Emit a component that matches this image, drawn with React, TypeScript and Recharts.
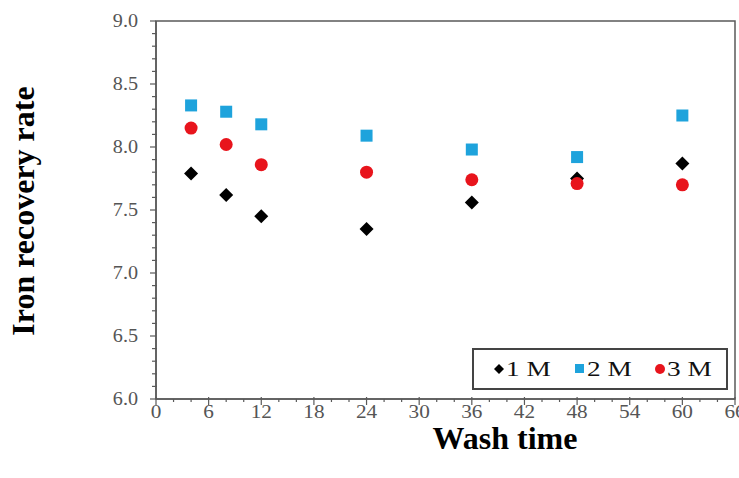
import { ScatterChart, Scatter, XAxis, YAxis, Legend, ReferenceArea, Label } from 'recharts'

// wash time (h)
const washTime = [4, 8, 12, 24, 36, 48, 60]

const oneM = [7.79, 7.62, 7.45, 7.35, 7.56, 7.75, 7.87]
const twoM = [8.33, 8.28, 8.18, 8.09, 7.98, 7.92, 8.25]
const threeM = [8.15, 8.02, 7.86, 7.8, 7.74, 7.71, 7.7]

const xMajorTicks = [0, 6, 12, 18, 24, 30, 36, 42, 48, 54, 60, 66]
const yMajorTicks = [6.0, 6.5, 7.0, 7.5, 8.0, 8.5, 9.0]

const toPoints = (vals: number[]) => washTime.map((t, i) => ({ x: t, y: vals[i] }))

// minor ticks: every 2 h on x, every 0.1 on y
const xTicks: number[] = []
for (let v = 0; v <= 66; v += 2) xTicks.push(v)
const yTicks: number[] = []
for (let i = 0; i <= 30; i++) yTicks.push(Math.round((6 + i * 0.1) * 10) / 10)

const AXIS = '#5a5a5a'
const TICK_TEXT = '#555'
const SERIF = '"Liberation Serif", "Times New Roman", serif'
const BLUE = '#1ea3dc'
const RED = '#e8141c'

const isMajorY = (v: number) => yMajorTicks.some((m) => Math.abs(m - v) < 1e-6)

const XTick = (props: any) => {
  const { x, y, payload } = props
  const axisY = y - 8
  const major = xMajorTicks.includes(payload.value)
  return (
    <g>
      <line x1={x} x2={x} y1={major ? axisY - 2 : axisY} y2={axisY + (major ? 6 : 3)} stroke={AXIS} strokeWidth={1.2} />
      {major && (
        <text
          transform={`translate(${x}, ${axisY + 19}) scale(1.18, 1)`}
          textAnchor="middle"
          fontFamily={SERIF}
          fontSize={18}
          fill={TICK_TEXT}
        >
          {payload.value}
        </text>
      )}
    </g>
  )
}

const YTick = (props: any) => {
  const { x, y, payload } = props
  const axisX = x + 8
  const major = isMajorY(payload.value)
  return (
    <g>
      <line x1={axisX - (major ? 6 : 4)} x2={axisX + (major ? 0 : 1)} y1={y} y2={y} stroke={AXIS} strokeWidth={1.2} />
      {major && (
        <text
          transform={`translate(${axisX - 18}, ${y + 6}) scale(1.12, 1)`}
          textAnchor="end"
          fontFamily={SERIF}
          fontSize={18}
          fill={TICK_TEXT}
        >
          {payload.value.toFixed(1)}
        </text>
      )}
    </g>
  )
}

const Diamond = ({ cx, cy }: any) => (
  <polygon points={`${cx},${cy - 7} ${cx + 7},${cy} ${cx},${cy + 7} ${cx - 7},${cy}`} fill="#000" />
)
const Square = ({ cx, cy }: any) => <rect x={cx - 6} y={cy - 6} width={12} height={12} fill={BLUE} />
const Dot = ({ cx, cy }: any) => <circle cx={cx} cy={cy} r={6.5} fill={RED} />

const legendText = (left: number, label: string) => (
  <span
    style={{
      position: 'absolute',
      left,
      top: 7,
      fontFamily: SERIF,
      fontSize: 21,
      lineHeight: '24px',
      color: '#111',
      transform: 'scaleX(1.3)',
      transformOrigin: 'left center',
      whiteSpace: 'nowrap',
    }}
  >
    {label}
  </span>
)

const renderLegend = () => (
  <div
    style={{
      position: 'relative',
      boxSizing: 'border-box',
      width: 256,
      height: 42,
      border: '2px solid #444',
      background: '#fff',
    }}
  >
    <svg width={256} height={42} style={{ position: 'absolute', left: -2, top: -2 }}>
      <polygon points="27,16 32,21 27,26 22,21" fill="#000" />
      <rect x={103} y={16} width={9} height={9} fill={BLUE} />
      <circle cx={188} cy={21} r={5} fill={RED} />
    </svg>
    {legendText(32, '1 M')}
    {legendText(113, '2 M')}
    {legendText(193, '3 M')}
  </div>
)

export default function App() {
  return (
    <div style={{ position: 'absolute', left: 0, top: 0, background: '#fff' }}>
      <ScatterChart width={739} height={478} margin={{ top: 21, right: 4, bottom: 0, left: 0 }}>
        <XAxis
          type="number"
          dataKey="x"
          domain={[0, 66]}
          ticks={xTicks}
          interval={0}
          height={79}
          tickSize={6}
          tickMargin={2}
          tickLine={false}
          axisLine={{ stroke: AXIS, strokeWidth: 1.5 }}
          tick={<XTick />}
        >
          <Label
            content={() => (
              <text x={505} y={449} textAnchor="middle" fontFamily={SERIF} fontWeight="bold" fontSize={32} fill="#000">
                Wash time
              </text>
            )}
          />
        </XAxis>
        <YAxis
          type="number"
          dataKey="y"
          domain={[6, 9]}
          ticks={yTicks}
          interval={0}
          width={156}
          tickSize={6}
          tickMargin={2}
          tickLine={false}
          axisLine={{ stroke: AXIS, strokeWidth: 1.5 }}
          tick={<YTick />}
        >
          <Label
            content={() => (
              <text
                x={0}
                y={0}
                transform="translate(34, 211) rotate(-90)"
                textAnchor="middle"
                fontFamily={SERIF}
                fontWeight="bold"
                fontSize={32}
                fill="#000"
              >
                Iron recovery rate
              </text>
            )}
          />
        </YAxis>
        <ReferenceArea x1={0} x2={66} y1={6} y2={9} fill="none" stroke={AXIS} strokeWidth={1.5} />
        <Legend
          layout="horizontal"
          verticalAlign="middle"
          align="center"
          content={renderLegend}
          wrapperStyle={{ left: 472, top: 348, width: 256, height: 42 }}
        />
        <Scatter name="1 M" data={toPoints(oneM)} shape={<Diamond />} isAnimationActive={false} />
        <Scatter name="2 M" data={toPoints(twoM)} shape={<Square />} isAnimationActive={false} />
        <Scatter name="3 M" data={toPoints(threeM)} shape={<Dot />} isAnimationActive={false} />
      </ScatterChart>
    </div>
  )
}
